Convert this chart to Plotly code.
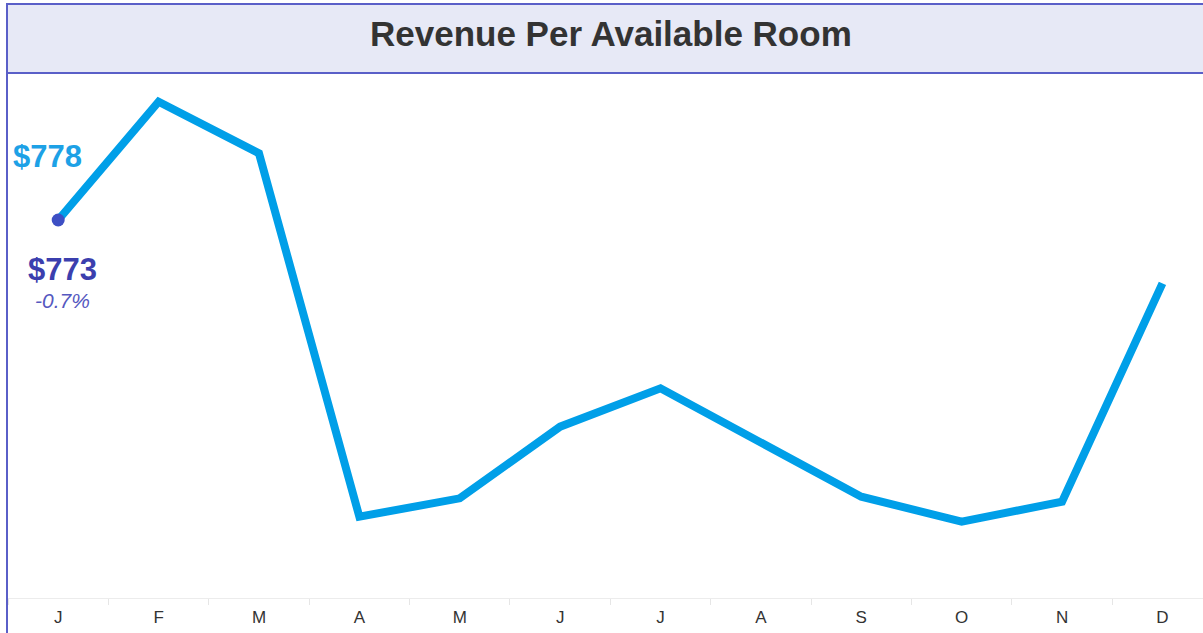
import plotly.graph_objects as go

months = ["J", "F", "M", "A", "M", "J", "J", "A", "S", "O", "N", "D"]
revpar = [773, 844, 813, 595, 606, 649, 672, 640, 607, 592, 604, 735]
prior_label = "$778"
current_label = "$773"
change_label = "-0.7%"
title_text = "Revenue Per Available Room"

W, H = 1203, 633
ML, MR, MT, MB = 8, 0, 74, 35
PW = W - ML - MR
PH = H - MT - MB

def px(x):
    return (x - ML) / PW

def py(y):
    return (H - MB - y) / PH

xs = list(range(len(months)))
fig = go.Figure()
fig.add_trace(go.Scatter(x=xs, y=revpar, mode="lines",
                         line=dict(color="#009fe8", width=8),
                         hoverinfo="skip", showlegend=False))
fig.add_trace(go.Scatter(x=xs[:1], y=revpar[:1], mode="markers",
                         marker=dict(color="#3d4fc4", size=13),
                         hoverinfo="skip", showlegend=False))

border = "#5a5fc8"
fig.add_shape(type="rect", xref="paper", yref="paper",
              x0=px(7), x1=px(1260), y0=py(73), y1=py(4),
              fillcolor="#e7e9f6", line=dict(color=border, width=2), layer="below")
fig.add_shape(type="line", xref="paper", yref="paper",
              x0=px(7), x1=px(7), y0=py(4), y1=py(700),
              line=dict(color=border, width=2))

fig.add_annotation(text="<b>" + title_text + "</b>", xref="paper", yref="paper",
                   x=px(611), y=py(33), showarrow=False,
                   font=dict(family="Liberation Sans", size=35, color="#333333"),
                   xanchor="center", yanchor="middle")
fig.add_annotation(text="<b>" + prior_label + "</b>", xref="paper", yref="paper",
                   x=px(47), y=py(156), showarrow=False,
                   font=dict(family="Liberation Sans", size=31, color="#1da1e6"),
                   xanchor="center", yanchor="middle")
fig.add_annotation(text="<b>" + current_label + "</b>", xref="paper", yref="paper",
                   x=px(62), y=py(269), showarrow=False,
                   font=dict(family="Liberation Sans", size=31, color="#3b3fae"),
                   xanchor="center", yanchor="middle")
fig.add_annotation(text="<i>" + change_label + "</i>", xref="paper", yref="paper",
                   x=px(62), y=py(300), showarrow=False,
                   font=dict(family="Liberation Sans", size=21, color="#5558c0"),
                   xanchor="center", yanchor="middle")

fig.update_layout(
    width=W, height=H,
    margin=dict(l=ML, r=MR, t=MT, b=MB, pad=0),
    paper_bgcolor="white", plot_bgcolor="white",
    showlegend=False,
    xaxis=dict(range=[-0.5, 11.404], tickmode="array", tickvals=xs, ticktext=months,
               showgrid=False, zeroline=False, showline=True, linecolor="#ececec",
               linewidth=1, ticks="", ticklen=0, ticklabelstandoff=4,
               tickfont=dict(family="Liberation Sans", size=17, color="#333333"),
               minor=dict(tick0=0.5, dtick=1, ticks="outside", ticklen=6,
                          tickcolor="#e6e6e6", showgrid=False),
               fixedrange=True),
    yaxis=dict(range=[546.2, 860.6], visible=False, showgrid=False, zeroline=False,
               fixedrange=True),
)

fig.write_html("out.html", config={"displayModeBar": False},
               post_script="document.body.style.margin='0px';document.body.style.overflow='hidden';")
